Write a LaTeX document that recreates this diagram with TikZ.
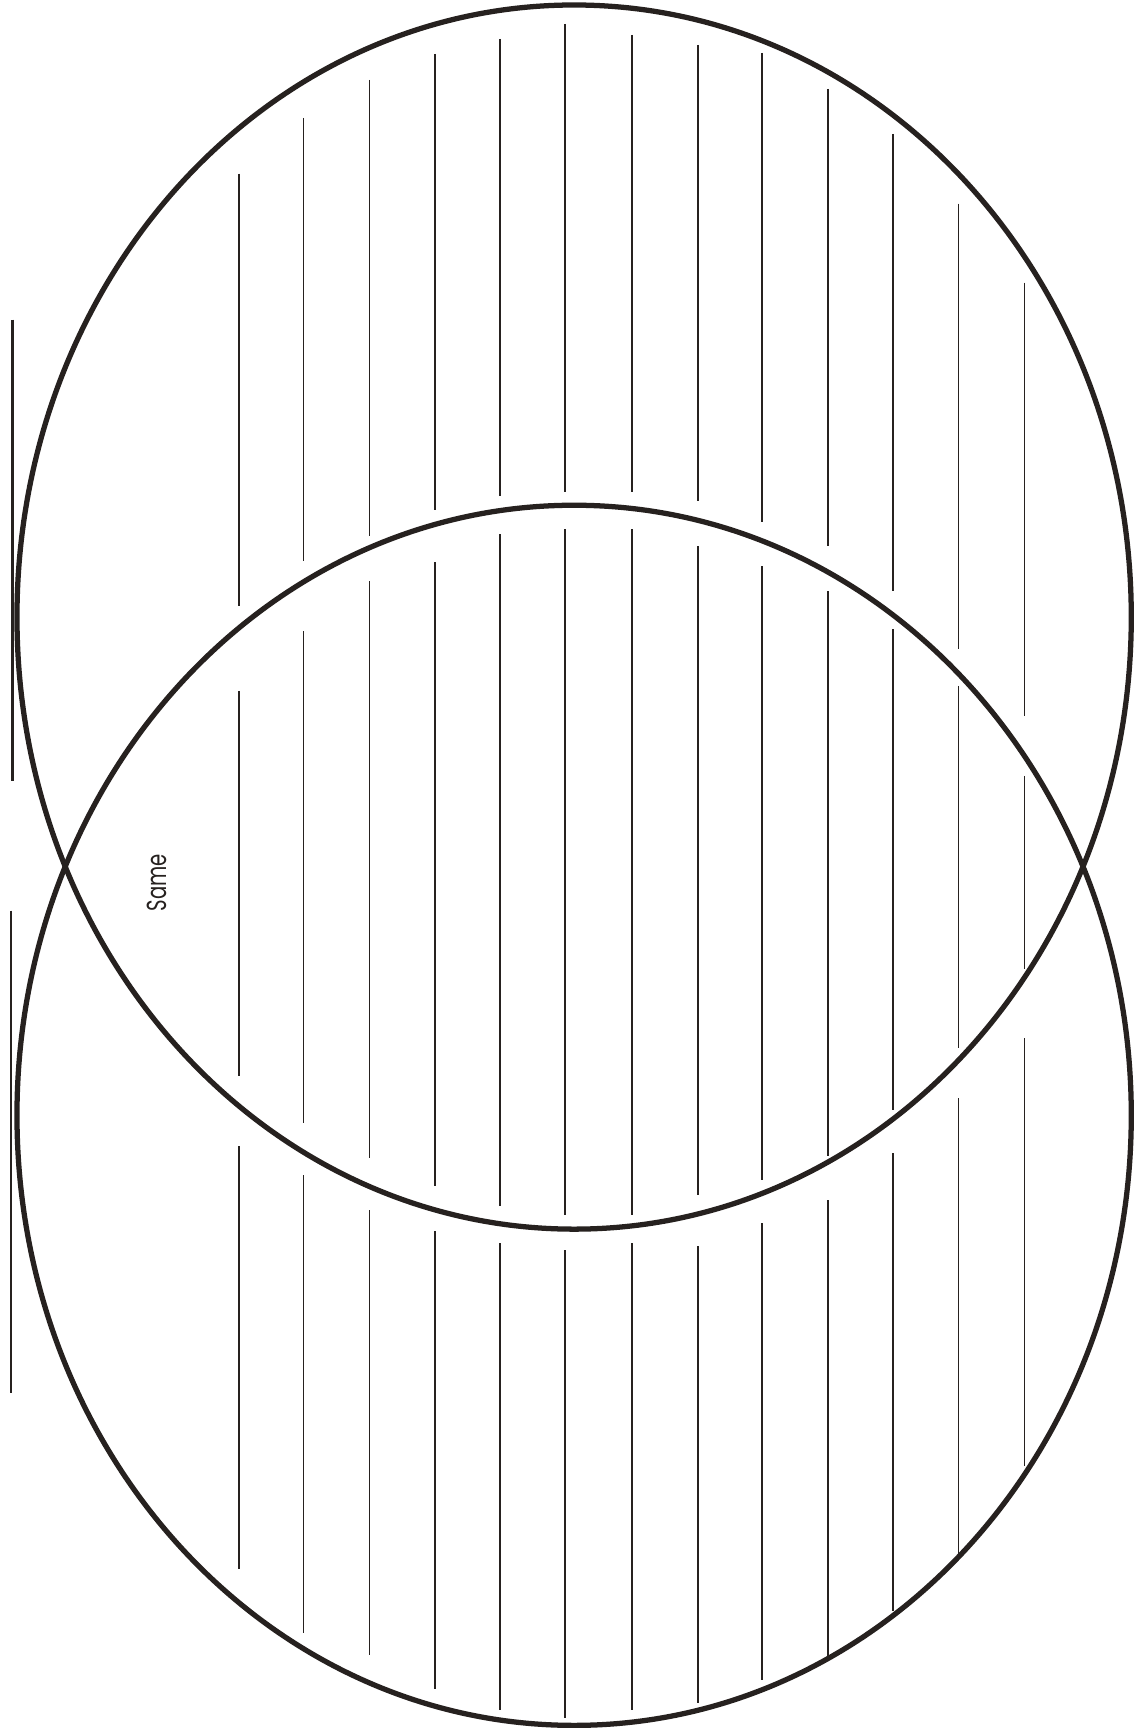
\documentclass[tikz,border=0pt]{standalone}
\usepackage{fontspec}
\newfontfamily\samefont{Poppins}
\usepackage{tikz}
\definecolor{ink}{RGB}{38,33,31}

\begin{document}
\begin{tikzpicture}[x=0.02cm, y=-0.02cm,
    venn/.style={draw=ink, line width=3pt},
    rule/.style={draw=ink, line width=1.05pt},
    nameline/.style={draw=ink, line width=1.5pt},
    samelabel/.style={font=\samefont\fontsize{11.2}{13}\selectfont, text=ink, rotate=90, yscale=1.4, inner sep=0pt}
]

% Page
\fill[white] (0,0) rectangle (1136,1728);

% Writing lines: x / top region / lens / bottom region
\foreach \x/\a/\b/\c/\d/\e/\f in {239/174/607/692/1078/1148/1571,
    304/118/562/632/1125/1177/1635, 370/80/537/582/1160/1212/1658,
    436/54/511/563/1188/1233/1692, 501/39/497/535/1208/1245/1713,
    566/24/493/530/1217/1252/1721, 633/35/493/530/1217/1245/1713,
    699/45/502/547/1197/1248/1706, 763/53/523/567/1182/1225/1683,
    829/89/547/592/1158/1202/1660, 894/134/592/630/1112/1155/1613,
    960/204/650/687/1050/1100/1559, 1026/283/717/777/970/1040/1468}{
  \draw[rule] (\x,\a) -- (\x,\b);
  \draw[rule] (\x,\c) -- (\x,\d);
  \draw[rule] (\x,\e) -- (\x,\f);
}

% Circles
\draw[venn] (575,618) ellipse [x radius=558, y radius=613];
\draw[venn] (575,1117) ellipse [x radius=558, y radius=611];

% Name lines
\draw[nameline] (12.5,320) -- (12.5,782);
\draw[nameline] (11,912) -- (11,1395);

% Label
\node[samelabel] (same) at (157,884) {Same};

\end{tikzpicture}
\end{document}
